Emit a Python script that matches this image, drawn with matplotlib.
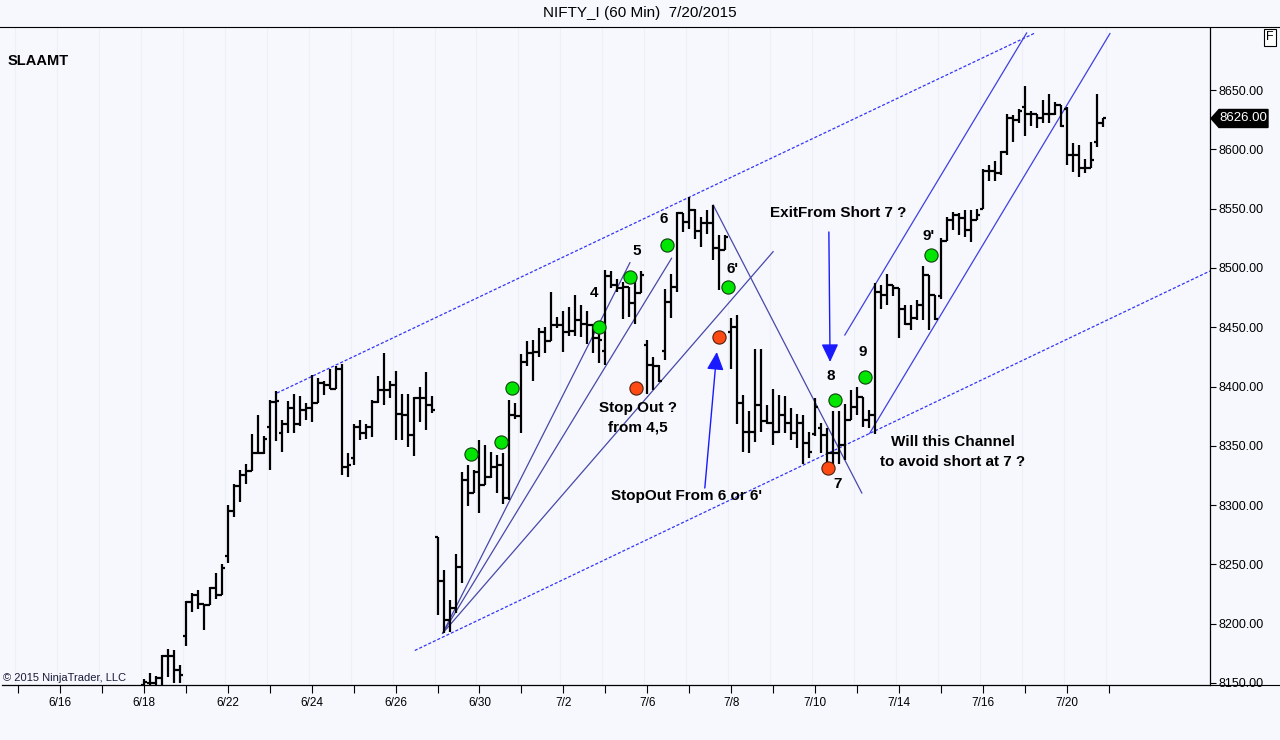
import matplotlib
matplotlib.use('Agg')
import matplotlib.pyplot as plt
from matplotlib.lines import Line2D
from matplotlib.patches import Polygon

plt.rcParams['font.family'] = ['Liberation Sans', 'DejaVu Sans']

# trading sessions on the time axis, 7 hourly bars per session
days = ['6/15', '6/16', '6/17', '6/18', '6/19', '6/22', '6/23', '6/24', '6/25', '6/26',
        '6/29', '6/30', '7/1', '7/2', '7/3', '7/6', '7/7', '7/8', '7/9', '7/10',
        '7/13', '7/14', '7/15', '7/16', '7/17', '7/20', '7/21']
labelled_days = ['6/16', '6/18', '6/22', '6/24', '6/26', '6/30', '7/2', '7/6',
                 '7/8', '7/10', '7/14', '7/16', '7/20']
first_day = '6/18'
bars_per_day = 7

# hourly OHLC, NIFTY_I 60 min, one line per session (6/18 .. 7/20)
opens = [8148, 8150, 8150, 8154, 8173, 8173, 8161,
         8190, 8218, 8224, 8217, 8216, 8230, 8224,
         8257, 8295, 8316, 8325, 8329, 8344, 8344,
         8366, 8387, 8361, 8368, 8382, 8368, 8380,
         8382, 8386, 8403, 8401, 8398, 8415, 8332,
         8340, 8366, 8361, 8366, 8387, 8397, 8397,
         8401, 8377, 8376, 8359, 8390, 8390, 8384,
         8273, 8236, 8203, 8213, 8248, 8321, 8310,
         8328, 8317, 8324, 8332, 8334, 8306, 8376,
         8375, 8421, 8428, 8429, 8446, 8438, 8452,
         8452, 8446, 8447, 8456, 8453, 8452, 8441,
         8430, 8493, 8486, 8483, 8484, 8470, 8479,
         8435, 8418, 8417, 8430, 8471, 8484, 8546,
         8539, 8549, 8531, 8538, 8538, 8517, 8515,
         8446, 8450, 8386, 8362, 8362, 8384, 8371,
         8369, 8362, 8376, 8369, 8361, 8369, 8352,
         8360, 8365, 8359, 8344, 8344, 8351, 8372,
         8383, 8391, 8372, 8376, 8480, 8477, 8486,
         8483, 8465, 8453, 8458, 8469, 8494, 8477,
         8476, 8523, 8540, 8545, 8542, 8532, 8540,
         8550, 8582, 8582, 8580, 8598, 8626, 8625,
         8636, 8630, 8630, 8626, 8630, 8630, 8637,
         8634, 8595, 8595, 8584, 8584, 8606, 8622]
highs = [8153, 8158, 8156, 8174, 8179, 8178, 8165,
         8219, 8226, 8228, 8217, 8231, 8243, 8250,
         8300, 8318, 8330, 8335, 8360, 8376, 8358,
         8389, 8396, 8372, 8388, 8394, 8392, 8386,
         8410, 8407, 8405, 8415, 8417, 8419, 8344,
         8368, 8372, 8368, 8389, 8409, 8428, 8405,
         8413, 8394, 8394, 8391, 8400, 8412, 8392,
         8273, 8245, 8220, 8259, 8328, 8334, 8330,
         8355, 8351, 8345, 8342, 8344, 8389, 8386,
         8427, 8438, 8439, 8449, 8450, 8480, 8459,
         8464, 8467, 8477, 8469, 8464, 8452, 8450,
         8498, 8497, 8491, 8488, 8484, 8490, 8497,
         8439, 8425, 8418, 8482, 8495, 8547, 8546,
         8560, 8550, 8543, 8549, 8553, 8528, 8528,
         8458, 8460, 8393, 8379, 8432, 8432, 8384,
         8398, 8393, 8392, 8382, 8377, 8376, 8362,
         8390, 8369, 8365, 8379, 8379, 8385, 8397,
         8400, 8391, 8380, 8487, 8486, 8495, 8486,
         8483, 8469, 8469, 8473, 8502, 8494, 8477,
         8525, 8543, 8547, 8546, 8549, 8549, 8550,
         8583, 8587, 8590, 8599, 8630, 8629, 8634,
         8653, 8632, 8630, 8642, 8647, 8640, 8637,
         8636, 8605, 8604, 8592, 8606, 8647, 8626]
lows = [8140, 8146, 8147, 8148, 8155, 8150, 8150,
        8181, 8210, 8212, 8195, 8216, 8221, 8224,
        8251, 8290, 8303, 8318, 8329, 8343, 8343,
        8330, 8354, 8345, 8361, 8361, 8367, 8372,
        8370, 8386, 8393, 8398, 8398, 8325, 8324,
        8334, 8355, 8356, 8357, 8386, 8384, 8390,
        8355, 8355, 8349, 8341, 8370, 8363, 8378,
        8207, 8192, 8193, 8209, 8234, 8299, 8310,
        8293, 8317, 8323, 8310, 8301, 8304, 8373,
        8361, 8417, 8405, 8425, 8428, 8438, 8449,
        8429, 8443, 8443, 8442, 8436, 8428, 8420,
        8418, 8483, 8480, 8457, 8459, 8453, 8479,
        8394, 8397, 8404, 8422, 8458, 8480, 8530,
        8533, 8524, 8518, 8529, 8507, 8481, 8515,
        8415, 8368, 8345, 8344, 8353, 8362, 8368,
        8351, 8361, 8361, 8355, 8348, 8335, 8340,
        8358, 8344, 8332, 8335, 8335, 8338, 8372,
        8376, 8366, 8365, 8360, 8465, 8469, 8476,
        8441, 8452, 8448, 8456, 8456, 8448, 8456,
        8474, 8523, 8532, 8528, 8526, 8522, 8540,
        8550, 8573, 8573, 8578, 8595, 8606, 8622,
        8611, 8620, 8618, 8622, 8622, 8629, 8619,
        8587, 8581, 8577, 8580, 8584, 8602, 8619]
closes = [8151, 8150, 8154, 8173, 8173, 8161, 8157,
          8218, 8224, 8217, 8216, 8230, 8224, 8247,
          8295, 8316, 8325, 8329, 8344, 8344, 8356,
          8387, 8388, 8368, 8382, 8368, 8380, 8382,
          8386, 8403, 8401, 8398, 8415, 8332, 8334,
          8366, 8361, 8366, 8387, 8397, 8397, 8401,
          8377, 8376, 8359, 8390, 8390, 8384, 8380,
          8236, 8203, 8213, 8248, 8321, 8310, 8328,
          8317, 8324, 8332, 8334, 8306, 8376, 8375,
          8421, 8428, 8429, 8446, 8438, 8452, 8452,
          8446, 8447, 8456, 8453, 8452, 8441, 8439,
          8493, 8486, 8483, 8484, 8470, 8479, 8494,
          8418, 8417, 8405, 8471, 8484, 8546, 8539,
          8549, 8531, 8538, 8538, 8517, 8515, 8526,
          8450, 8386, 8362, 8362, 8384, 8371, 8369,
          8362, 8376, 8369, 8361, 8369, 8352, 8345,
          8383, 8359, 8344, 8344, 8351, 8372, 8383,
          8391, 8372, 8376, 8480, 8477, 8486, 8483,
          8465, 8453, 8458, 8469, 8494, 8477, 8457,
          8523, 8540, 8545, 8542, 8532, 8540, 8545,
          8582, 8582, 8580, 8598, 8626, 8625, 8632,
          8630, 8630, 8626, 8630, 8630, 8637, 8620,
          8595, 8595, 8584, 8584, 8591, 8622, 8626]

# signal dots (bar position, price)
green_x = [75.6, 80.6, 82.5, 97.0, 102.1, 108.3, 118.5, 136.3, 141.3, 152.4]
green_y = [8343, 8353, 8399, 8450, 8492, 8519, 8484, 8389, 8408, 8511]
red_x = [103.1, 116.9, 135.2]
red_y = [8399, 8442, 8331]

# hand drawn lines (start bar, start price, end bar, end price)
channel_lines = [(43.2, 8394.5, 169.7, 8698.1),
                 (66.2, 8177.4, 198.9, 8497.4)]
fan_lines = [(70.85, 8191.9, 102.1, 8504.4),
             (70.85, 8191.9, 109.05, 8508.1),
             (70.85, 8191.9, 126.0, 8513.7),
             (116.0, 8553.0, 140.8, 8310.2)]
rally_lines = [(137.96, 8443.4, 168.3, 8698.1),
               (142.1, 8360.5, 182.2, 8697.6)]

# wave labels and notes (text, bar position, price)
wave_labels = [('4', 96.1, 8479), ('5', 103.3, 8514), ('6', 107.8, 8541),
               ("6'", 119.3, 8499), ('8', 135.6, 8409), ('9', 140.9, 8429),
               ("9'", 151.9, 8527), ('7', 136.8, 8318)]
notes = [('Stop Out ?', 103.5, 8381.6), ('from 4,5', 103.5, 8365.6),
         ("StopOut From 6 or 6'", 111.6, 8307.9), ('ExitFrom Short 7 ?', 136.8, 8546.3),
         ('Will this Channel', 156.0, 8353.2), ('to avoid short at 7 ?', 156.0, 8336.3)]
arrows = [(135.3, 8530.3, 135.5, 8420.7), (114.6, 8314.4, 116.6, 8429.1)]

W, H = 1280, 740
bg = '#f6f8fd'
fig = plt.figure(figsize=(W / 100, H / 100), dpi=100, facecolor=bg)
ax = fig.add_axes([2 / W, 55 / H, 1208 / W, 657 / H], facecolor=bg)

# session separators
for i in range(len(days)):
    ax.axvline(bars_per_day * i - 0.5, color='#edf0f6', lw=0.8, zorder=0)

# OHLC bars
start = days.index(first_day) * bars_per_day
pos = [start + i for i in range(len(closes))]
ax.vlines(pos, lows, highs, color='black', lw=1.6, zorder=3)
ax.hlines(opens, [p - 0.5 for p in pos], pos, color='black', lw=1.6, zorder=3)
ax.hlines(closes, pos, [p + 0.5 for p in pos], color='black', lw=1.6, zorder=3)

# trend lines
for x0, y0, x1, y1 in channel_lines:
    ax.plot([x0, x1], [y0, y1], color='#3535f5', lw=0.9, ls=(0, (2.5, 1.5)), zorder=2)
for x0, y0, x1, y1 in fan_lines:
    ax.plot([x0, x1], [y0, y1], color='#4848a8', lw=0.9, zorder=2)
for x0, y0, x1, y1 in rally_lines:
    ax.plot([x0, x1], [y0, y1], color='#4040e0', lw=0.9, zorder=2)

ax.plot(green_x, green_y, 'o', ms=9.5, mfc='#00e600', mec='#104010', mew=0.8, zorder=4)
ax.plot(red_x, red_y, 'o', ms=9.5, mfc='#ff4a14', mec='#502010', mew=0.8, zorder=4)

for txt, x, y in wave_labels:
    ax.text(x, y, txt, ha='center', va='center', fontsize=11, fontweight='bold', zorder=5)
for txt, x, y in notes:
    ax.text(x, y, txt, ha='center', va='center', fontsize=11, fontweight='bold', zorder=5)
for x0, y0, x1, y1 in arrows:
    ax.annotate('', xy=(x1, y1), xytext=(x0, y0),
                arrowprops=dict(arrowstyle='-|>,head_length=0.55,head_width=0.26',
                                mutation_scale=20, color='#1a1aff', lw=1.0,
                                shrinkA=0, shrinkB=0), zorder=5)

# axes
ax.set_xlim(-2.68, 198.9)
ax.set_ylim(8148.3, 8702.3)
ax.set_xticks([bars_per_day * i for i in range(len(days))])
ax.set_xticklabels([d if d in labelled_days else '' for d in days], fontsize=8.5)
ax.yaxis.tick_right()
ax.set_yticks(list(range(8150, 8651, 50)))
ax.set_yticklabels(['%.2f' % v for v in range(8150, 8651, 50)], fontsize=9)
ax.tick_params(axis='y', direction='out', length=4, pad=2, width=0.8)
ax.tick_params(axis='x', direction='out', length=6, pad=3, width=0.8)
for side in ['top', 'left']:
    ax.spines[side].set_visible(False)
ax.spines['right'].set_linewidth(0.9)
ax.spines['bottom'].set_linewidth(0.9)

fig.add_artist(Line2D([0, 1], [1 - 27 / H] * 2, color='black', lw=0.8))
fig.add_artist(Line2D([1210 / W, 1], [55 / H] * 2, color='black', lw=0.8))

fig.text(0.5, 1 - 13 / H, 'NIFTY_I (60 Min)  7/20/2015', ha='center', va='center', fontsize=11)
fig.text(8 / W, 1 - 61 / H, 'SLAAMT', ha='left', va='center', fontsize=10.5, fontweight='bold')
fig.text(3 / W, 1 - 678 / H, '\u00a9 2015 NinjaTrader, LLC', ha='left', va='center',
         fontsize=8, color='#1a1a3a')
fig.text(1270 / W, 1 - 37 / H, 'F', ha='center', va='center', fontsize=9,
         bbox=dict(boxstyle='square,pad=0.2', fc='white', ec='black', lw=0.8))

# last price marker on the price scale
y_px = ax.transData.transform((0, closes[-1]))[1]
pts = [(1211, y_px), (1219, y_px + 9), (1268, y_px + 9), (1268, y_px - 9), (1219, y_px - 9)]
fig.add_artist(Polygon([(px / W, py / H) for px, py in pts], closed=True,
                       transform=fig.transFigure, fc='black', ec='black'))
fig.text(1243 / W, y_px / H, '%.2f' % closes[-1], ha='center', va='center',
         fontsize=9.5, color='white')

fig.savefig('out.png', dpi=100, facecolor=bg)
